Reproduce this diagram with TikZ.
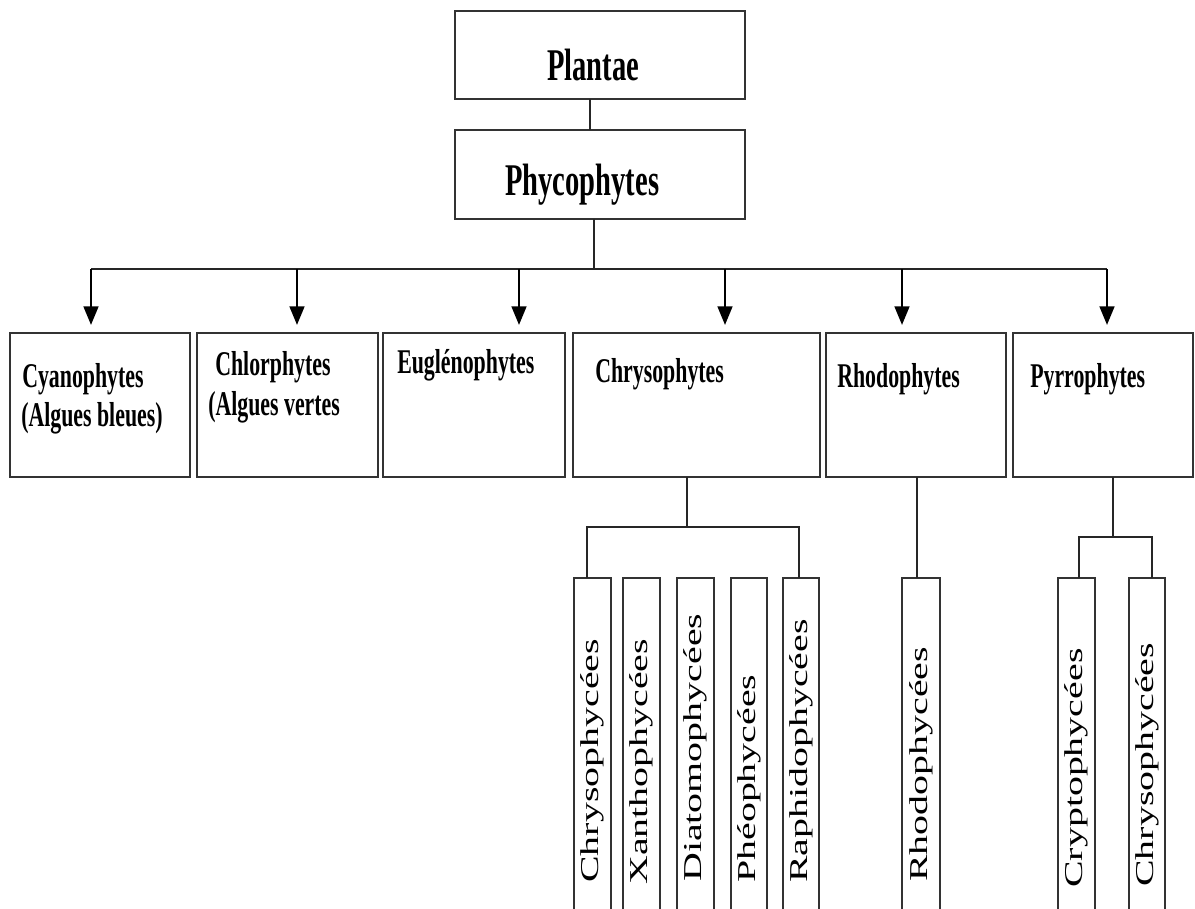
\documentclass[tikz,border=0pt]{standalone}
\usepackage{fontspec}
\setmainfont{Liberation Serif}
\usepackage{graphicx}
\usetikzlibrary{arrows.meta,fit}
% condensed bold for the upper boxes, stretched regular for the vertical labels
\newcommand\cbf[1]{\scalebox{0.63}[1]{\bfseries #1}}
\newcommand\vtxt[1]{\scalebox{1.55}[1]{#1}}

\begin{document}
\begin{tikzpicture}[x=0.75pt,y=-0.75pt,
  box/.style={draw=black!80, line width=2pt, rectangle, inner sep=0pt, outer sep=0pt},
  link/.style={draw=black!85, line width=1.7pt},
  arr/.style={draw=black, line width=2pt, -{Triangle[length=14pt,width=11pt]}, shorten >=6pt},
  big/.style={font=\fontsize{34}{40}\selectfont, inner sep=0pt, anchor=base west},
  mid/.style={font=\fontsize{26}{30}\selectfont, inner sep=0pt, anchor=base west},
  small/.style={font=\fontsize{19.3}{22}\selectfont, inner sep=0pt, rotate=90, anchor=west}]

\useasboundingbox (0,0) rectangle (1195,908);
\fill[white] (0,0) rectangle (1195,908);
\begin{scope}
\clip (0,0) rectangle (1195,908);

% top of the hierarchy
\node[box, fit={(455,11) (745,99)}] (plantae) {};
\node[big] at (547,80) {\cbf{Plantae}};
\node[box, fit={(455,130) (745,219)}] (phyco) {};
\node[big] at (505,195) {\cbf{Phycophytes}};

% the six divisions
\node[box, fit={(10,333) (190,477)}] (cyan) {};
\node[box, fit={(197,333) (378,477)}] (chlor) {};
\node[box, fit={(383,333) (565,477)}] (eugl) {};
\node[box, fit={(573,333) (820,477)}] (chryso) {};
\node[box, fit={(826,333) (1006,477)}] (rhodo) {};
\node[box, fit={(1013,333) (1193,477)}] (pyrro) {};

\node[mid] at (22,387) {\cbf{Cyanophytes}};
\node[mid] at (21,426) {\cbf{(Algues bleues)}};
\node[mid] at (215,375) {\cbf{Chlorphytes}};
\node[mid] at (208,415) {\cbf{(Algues vertes}};
\node[mid] at (397,373) {\cbf{Euglénophytes}};
\node[mid] at (595,382) {\cbf{Chrysophytes}};
\node[mid] at (837,387) {\cbf{Rhodophytes}};
\node[mid] at (1030,387) {\cbf{Pyrrophytes}};

% classes (open at the bottom)
\node[box, fit={(574,578) (611,940)}] (c1) {};
\node[box, fit={(623,578) (660,940)}] (c2) {};
\node[box, fit={(677,578) (714,940)}] (c3) {};
\node[box, fit={(731,578) (767,940)}] (c4) {};
\node[box, fit={(783,578) (819,940)}] (c5) {};
\node[box, fit={(902,578) (940,940)}] (r1) {};
\node[box, fit={(1058,578) (1095,940)}] (p1) {};
\node[box, fit={(1129,578) (1165,940)}] (p2) {};

\node[small] at (592.5,883) {\vtxt{Chrysophycées}};
\node[small] at (641.5,885) {\vtxt{Xanthophycées}};
\node[small] at (695.5,882) {\vtxt{Diatomophycées}};
\node[small] at (749,883) {\vtxt{Phéophycées}};
\node[small] at (801,883) {\vtxt{Raphidophycées}};
\node[small] at (921,882) {\vtxt{Rhodophycées}};
\node[small] at (1076.5,888) {\vtxt{Cryptophycées}};
\node[small] at (1147,887) {\vtxt{Chrysophycées}};

% connectors
\coordinate (pl) at (590,0);
\draw[link] (plantae.south -| pl) -- (phyco.north -| pl);

\coordinate (hub) at (594,269);
\coordinate (a1) at (91,269);
\coordinate (a2) at (297,269);
\coordinate (a3) at (519,269);
\coordinate (a4) at (725,269);
\coordinate (a5) at (902,269);
\coordinate (a6) at (1107,269);
\draw[link] (phyco.south -| hub) -- (hub);
\draw[link] (a1) -- (a6);
\draw[arr] (a1) -- (a1 |- cyan.north);
\draw[arr] (a2) -- (a2 |- chlor.north);
\draw[arr] (a3) -- (a3 |- eugl.north);
\draw[arr] (a4) -- (a4 |- chryso.north);
\draw[arr] (a5) -- (a5 |- rhodo.north);
\draw[arr] (a6) -- (a6 |- pyrro.north);

\coordinate (cj) at (687,527);
\coordinate (cl) at (587,527);
\coordinate (cr) at (799,527);
\draw[link] (chryso.south -| cj) -- (cj);
\draw[link] (cl |- c1.north) -- (cl) -- (cr) -- (cr |- c5.north);

\coordinate (rj) at (917,0);
\draw[link] (rhodo.south -| rj) -- (r1.north -| rj);

\coordinate (pj) at (1113,537);
\coordinate (pa) at (1079,537);
\coordinate (pb) at (1152,537);
\draw[link] (pyrro.south -| pj) -- (pj);
\draw[link] (pa |- p1.north) -- (pa) -- (pb) -- (pb |- p2.north);
\end{scope}
\end{tikzpicture}
\end{document}
